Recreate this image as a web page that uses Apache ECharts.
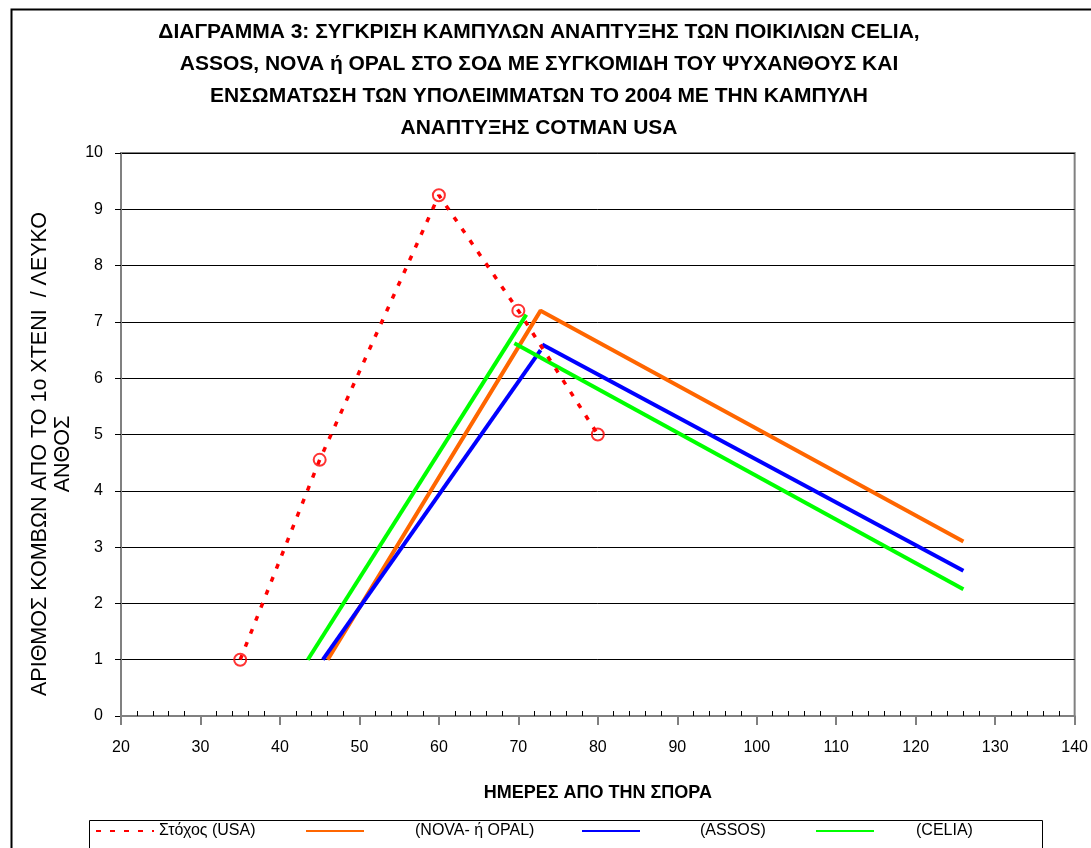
<!DOCTYPE html>
<html>
<head>
<meta charset="utf-8">
<script src="https://cdn.jsdelivr.net/npm/echarts@6/dist/echarts.min.js"></script>
<style>
html,body{margin:0;padding:0;background:#fff;}
#c{width:1091px;height:848px;}
</style>
</head>
<body>
<div id="c"></div>
<script>
// ---- data ----
const titleLines = [
  'ΔΙΑΓΡΑΜΜΑ 3: ΣΥΓΚΡΙΣΗ ΚΑΜΠΥΛΩΝ ΑΝΑΠΤΥΞΗΣ ΤΩΝ ΠΟΙΚΙΛΙΩΝ CELIA,',
  'ASSOS, NOVA ή OPAL ΣΤΟ ΣΟΔ ΜΕ ΣΥΓΚΟΜΙΔΗ ΤΟΥ ΨΥΧΑΝΘΟΥΣ ΚΑΙ',
  'ΕΝΣΩΜΑΤΩΣΗ ΤΩΝ ΥΠΟΛΕΙΜΜΑΤΩΝ ΤΟ 2004 ΜΕ ΤΗΝ ΚΑΜΠΥΛΗ',
  'ΑΝΑΠΤΥΞΗΣ COTMAN USA'
];
const xAxisTitle = 'ΗΜΕΡΕΣ ΑΠΟ ΤΗΝ ΣΠΟΡΑ';
const yAxisTitle = ['ΑΡΙΘΜΟΣ ΚΟΜΒΩΝ ΑΠΟ ΤΟ 1ο ΧΤΕΝΙ  / ΛΕΥΚΟ', 'ΑΝΘΟΣ'];
const seriesNames = ['Στόχος (USA)', '(NOVA- ή OPAL)', '(ASSOS)', '(CELIA)'];

const usaDays = [35, 45, 60, 70, 80];
const usaVals = [1, 4.55, 9.25, 7.2, 5];

const novaDays = [46, 72.8, 126];
const novaVals = [1, 7.2, 3.1];

const assosUpDays = [45.4, 72.8];
const assosUpVals = [1, 6.5];
const assosDownDays = [73, 126];
const assosDownVals = [6.6, 2.58];

const celiaUpDays = [43.5, 71];
const celiaUpVals = [1, 7.13];
const celiaDownDays = [69.5, 126];
const celiaDownVals = [6.62, 2.25];

const zip = (xs, ys) => xs.map((x, i) => [x, ys[i]]);

const FONT = '"Liberation Sans", Arial, sans-serif';
const colors = ['#FF0000', '#FF6600', '#0000FF', '#00FF00'];

const chart = echarts.init(document.getElementById('c'), null, {renderer: 'canvas'});

function legendAt(name, left, textPad) {
  return {
    data: [name],
    left: left,
    top: 823,
    itemWidth: 58,
    itemHeight: 18,
    itemGap: 0,
    padding: 0,
    selectedMode: false,
    itemStyle: {opacity: 0},
    textStyle: {fontFamily: FONT, fontSize: 16, color: '#000', padding: [0, 0, 0, textPad]}
  };
}

const lineSeries = (name, data, color) => ({
  name: name,
  type: 'line',
  data: data,
  symbol: 'none',
  lineStyle: {color: color, width: 4},
  itemStyle: {color: color},
  z: 3
});

const option = {
  animation: false,
  backgroundColor: '#fff',
  title: {
    text: titleLines.join('\n'),
    left: 534,
    textAlign: 'center',
    top: 11,
    textStyle: {fontFamily: FONT, fontSize: 21, fontWeight: 'bold', color: '#000', lineHeight: 32}
  },
  grid: {
    left: 121, right: 16, top: 153, bottom: 132,
    show: true, borderColor: '#808080', borderWidth: 2, backgroundColor: 'transparent'
  },
  legend: [
    legendAt(seriesNames[0], 95, 0),
    legendAt(seriesNames[1], 305, 46),
    legendAt(seriesNames[2], 581, 55),
    legendAt(seriesNames[3], 815, 37)
  ],
  xAxis: {
    type: 'value', min: 20, max: 140, interval: 10,
    name: xAxisTitle, nameLocation: 'middle', nameGap: 68,
    nameTextStyle: {fontFamily: FONT, fontSize: 18, fontWeight: 'bold', color: '#000'},
    axisLine: {show: true, lineStyle: {color: '#808080', width: 2}},
    axisTick: {show: true, length: 9, lineStyle: {color: '#808080', width: 2}},
    minorTick: {show: true, splitNumber: 5, length: -5, lineStyle: {color: '#000', width: 1}},
    axisLabel: {fontFamily: FONT, fontSize: 16, color: '#000', margin: 24},
    splitLine: {show: false}
  },
  yAxis: {
    type: 'value', min: 0, max: 10, interval: 1,
    axisLine: {show: true, lineStyle: {color: '#808080', width: 2}},
    axisTick: {show: true, length: 6, lineStyle: {color: '#000', width: 1}},
    axisLabel: {fontFamily: FONT, fontSize: 16, color: '#000', margin: 18},
    splitLine: {show: true, lineStyle: {color: '#000', width: 1}}
  },
  graphic: [
    {type: 'rect', left: 9, top: 7, shape: {width: 1200, height: 1000},
     style: {fill: 'none', stroke: '#000', lineWidth: 2}, silent: true, z: -10},
    {type: 'rect', left: 87, top: 818, shape: {width: 953, height: 60},
     style: {fill: 'none', stroke: '#000', lineWidth: 1}, silent: true, z: -10},
    {type: 'text', x: 52, y: 454, rotation: Math.PI / 2,
     style: {text: yAxisTitle.join('\n'), font: '21.5px ' + FONT, fill: '#000',
             textAlign: 'center', textVerticalAlign: 'middle', lineHeight: 23}, silent: true}
  ],
  series: [
    {
      name: seriesNames[0], type: 'line', data: zip(usaDays, usaVals),
      symbol: 'none',
      lineStyle: {color: colors[0], width: 3.5, type: [5, 9], cap: 'butt'},
      itemStyle: {color: colors[0]}, z: 4
    },
    {
      name: 'usaMarkers', type: 'scatter', data: zip(usaDays, usaVals),
      symbol: 'circle', symbolSize: 12,
      itemStyle: {color: 'rgba(255,255,255,0)', borderColor: colors[0], borderWidth: 2},
      z: 5
    },
    lineSeries(seriesNames[1], zip(novaDays, novaVals), colors[1]),
    lineSeries(seriesNames[2], zip(assosUpDays, assosUpVals), colors[2]),
    lineSeries(seriesNames[2], zip(assosDownDays, assosDownVals), colors[2]),
    lineSeries(seriesNames[3], zip(celiaUpDays, celiaUpVals), colors[3]),
    lineSeries(seriesNames[3], zip(celiaDownDays, celiaDownVals), colors[3])
  ]
};
chart.setOption(option);
</script>
</body>
</html>
